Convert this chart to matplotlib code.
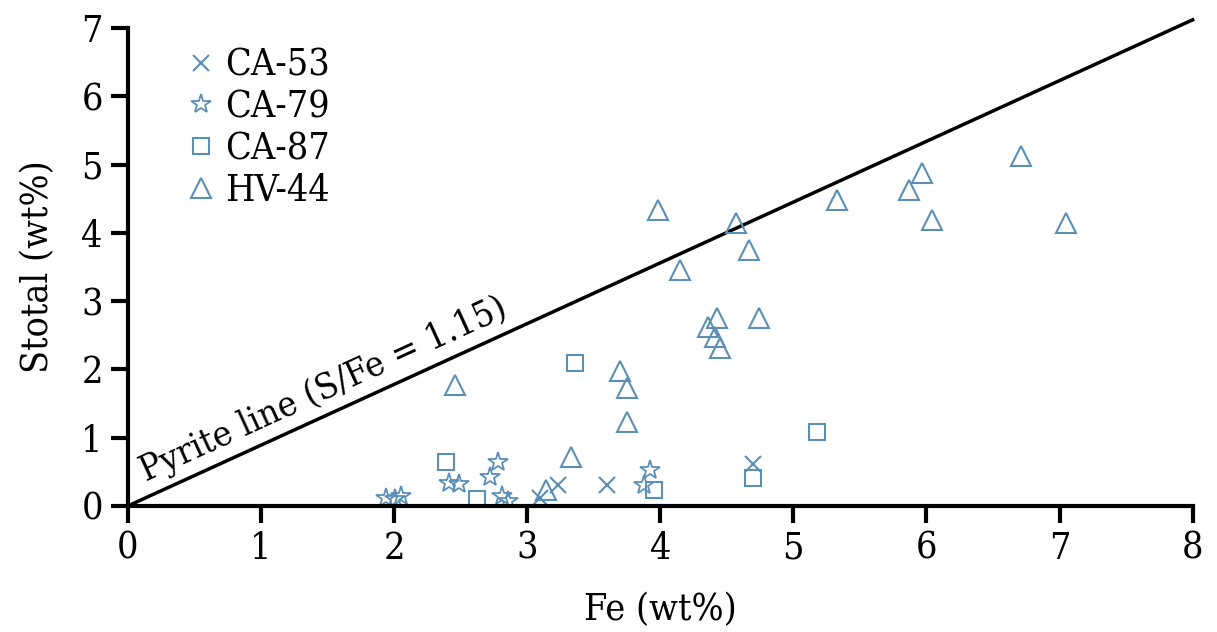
import numpy as np
import matplotlib
matplotlib.use("Agg")
import matplotlib.pyplot as plt

# Fe (wt%) and Stotal (wt%) per sample
ca53_fe = [3.10, 3.23, 3.60, 4.70]
ca53_s = [0.12, 0.30, 0.30, 0.61]

ca79_fe = [1.94, 2.01, 2.05, 2.41, 2.49, 2.72, 2.78, 2.81, 2.86, 3.88, 3.92]
ca79_s = [0.11, 0.10, 0.14, 0.33, 0.32, 0.42, 0.65, 0.14, 0.08, 0.30, 0.52]

ca87_fe = [2.39, 2.62, 3.36, 3.95, 4.70, 5.18]
ca87_s = [0.64, 0.10, 2.10, 0.23, 0.41, 1.08]

hv44_fe = [2.46, 3.14, 3.33, 3.70, 3.75, 3.75, 3.98, 4.15, 4.36, 4.43, 4.41, 4.45,
           4.57, 4.67, 4.74, 5.33, 5.87, 5.97, 6.04, 6.71, 7.05]
hv44_s = [1.77, 0.23, 0.72, 1.97, 1.73, 1.23, 4.34, 3.45, 2.62, 2.76, 2.47, 2.31,
          4.14, 3.75, 2.76, 4.48, 4.63, 4.87, 4.19, 5.12, 4.15]

pyrite_slope = 0.89
line_fe = [0, 8]

col = "#5b8fb6"
plt.rcParams["font.family"] = ["DejaVu Serif"]
plt.rcParams["font.stretch"] = "condensed"

fig = plt.figure(figsize=(12.17, 6.32), dpi=100)
ax = fig.add_axes([0.105, 0.1994, 0.875, 0.7563])

ax.plot(line_fe, [pyrite_slope * v for v in line_fe], color="black", lw=2.5, zorder=1, clip_on=False)

ax.plot(ca53_fe, ca53_s, ls="none", marker="x", ms=11, mew=1.5, color=col, label="CA-53")
ax.plot(ca79_fe, ca79_s, ls="none", marker="*", ms=15, mew=1.3, mfc="none", mec=col, label="CA-79")
ax.plot(ca87_fe, ca87_s, ls="none", marker="s", ms=11, mew=1.5, mfc="none", mec=col, label="CA-87")
ax.plot(hv44_fe, hv44_s, ls="none", marker="^", ms=15, mew=1.5, mfc="none", mec=col, label="HV-44")

ax.text(0.16, 0.27, "Pyrite line (S/Fe = 1.15)", rotation=24.6, rotation_mode="anchor",
        fontsize=26, ha="left", va="bottom")

ax.set_xlim(0, 8)
ax.set_ylim(0, 7)
ax.set_xticks(range(0, 9))
ax.set_yticks(range(0, 8))
ax.spines["top"].set_visible(False)
ax.spines["right"].set_visible(False)
ax.spines["left"].set_linewidth(3)
ax.spines["bottom"].set_linewidth(3)
ax.tick_params(direction="out", length=12, width=3, labelsize=27, pad=6)
ax.set_xlabel("Fe (wt%)", fontsize=27, labelpad=18)
ax.set_ylabel("Stotal (wt%)", fontsize=27, labelpad=18)

ax.legend(loc="upper left", bbox_to_anchor=(0.035, 0.99), frameon=False, fontsize=27,
          handletextpad=0.1, labelspacing=0.15, handlelength=1.1, borderaxespad=0)

fig.savefig("out.png", dpi=100)
